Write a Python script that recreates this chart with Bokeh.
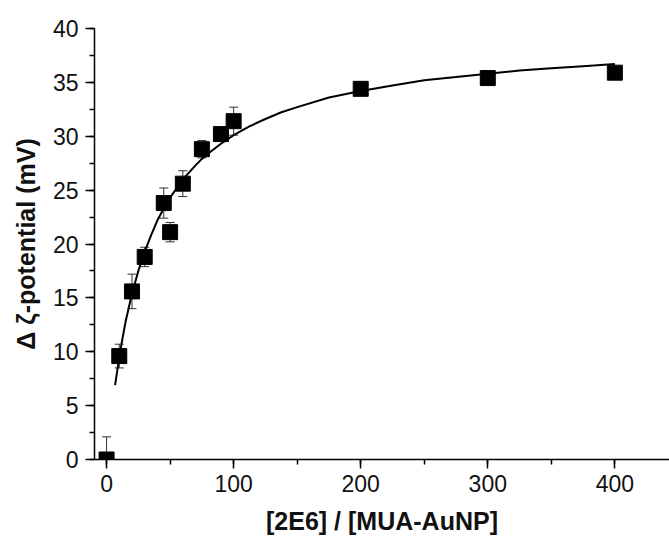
from bokeh.plotting import figure
from bokeh.models import ColumnDataSource, Whisker, TeeHead, SingleIntervalTicker, Range1d
from bokeh.embed import file_html
from bokeh.resources import INLINE

# Data
ratio = [0, 10, 20, 30, 45, 50, 60, 75, 90, 100, 200, 300, 400]
zeta = [0.0, 9.6, 15.6, 18.8, 23.8, 21.1, 25.6, 28.8, 30.2, 31.4, 34.4, 35.4, 35.9]
err = [2.1, 1.1, 1.6, 0.9, 1.4, 0.9, 1.2, 0.8, 0.5, 1.3, 0.3, 0.3, 0.3]

fit_x = [6.7, 10, 12, 15, 20, 25, 30, 35, 40, 45, 50, 60, 70, 75, 80, 90, 100, 112, 125,
         137, 150, 175, 200, 225, 250, 275, 300, 325, 350, 375, 400]
fit_y = [6.9, 9.5, 10.9, 12.8, 15.4, 17.5, 19.3, 20.8, 22.2, 23.3, 24.3, 26.0, 27.3, 27.9,
         28.4, 29.3, 30.1, 30.9, 31.6, 32.2, 32.7, 33.6, 34.2, 34.7, 35.2, 35.5, 35.8,
         36.1, 36.3, 36.5, 36.7]

x_ticks_interval = 100
y_ticks_interval = 5

FONT = "Liberation Sans"

lower = [z - e for z, e in zip(zeta, err)]
upper = [z + e for z, e in zip(zeta, err)]
src = ColumnDataSource(dict(x=ratio, y=zeta, lower=lower, upper=upper))

p = figure(width=669, height=542, output_backend="svg", toolbar_location=None,
           x_range=Range1d(-9.5, 443), y_range=Range1d(0, 40),
           min_border_left=94, min_border_right=0, min_border_top=28, min_border_bottom=83)
p.outline_line_color = None
p.xgrid.visible = False
p.ygrid.visible = False
p.background_fill_color = "white"
p.border_fill_color = "white"

w = Whisker(source=src, base="x", lower="lower", upper="upper", level="underlay",
            line_color="#333333", line_width=1,
            upper_head=TeeHead(size=9, line_color="#333333", line_width=1),
            lower_head=TeeHead(size=9, line_color="#333333", line_width=1))
p.add_layout(w)

p.scatter("x", "y", source=src, marker="square", size=15, fill_color="black", line_color="black")
p.line(fit_x, fit_y, line_color="black", line_width=2)

p.xaxis.ticker = SingleIntervalTicker(interval=x_ticks_interval, num_minor_ticks=2)
p.yaxis.ticker = SingleIntervalTicker(interval=y_ticks_interval, num_minor_ticks=2)

for ax in (p.xaxis[0], p.yaxis[0]):
    ax.axis_line_width = 1.5
    ax.axis_line_color = "black"
    ax.major_tick_line_color = "black"
    ax.minor_tick_line_color = "black"
    ax.major_tick_line_width = 1.5
    ax.minor_tick_line_width = 1.5
    ax.major_tick_out = 9
    ax.major_tick_in = 0
    ax.minor_tick_out = 5
    ax.minor_tick_in = 0
    ax.major_label_text_font = FONT
    ax.major_label_text_font_size = "23px"
    ax.major_label_text_color = "#111111"
    ax.axis_label_text_font = FONT
    ax.axis_label_text_font_size = "25px"
    ax.axis_label_text_font_style = "bold"
    ax.axis_label_text_color = "#111111"

p.xaxis.axis_label = "[2E6] / [MUA-AuNP]"
p.yaxis.axis_label = "Δ ζ-potential (mV)"
p.xaxis.major_label_standoff = 6
p.yaxis.major_label_standoff = 7
p.xaxis.axis_label_standoff = 12
p.yaxis.axis_label_standoff = 10

open("out.html", "w").write(file_html(p, INLINE))
